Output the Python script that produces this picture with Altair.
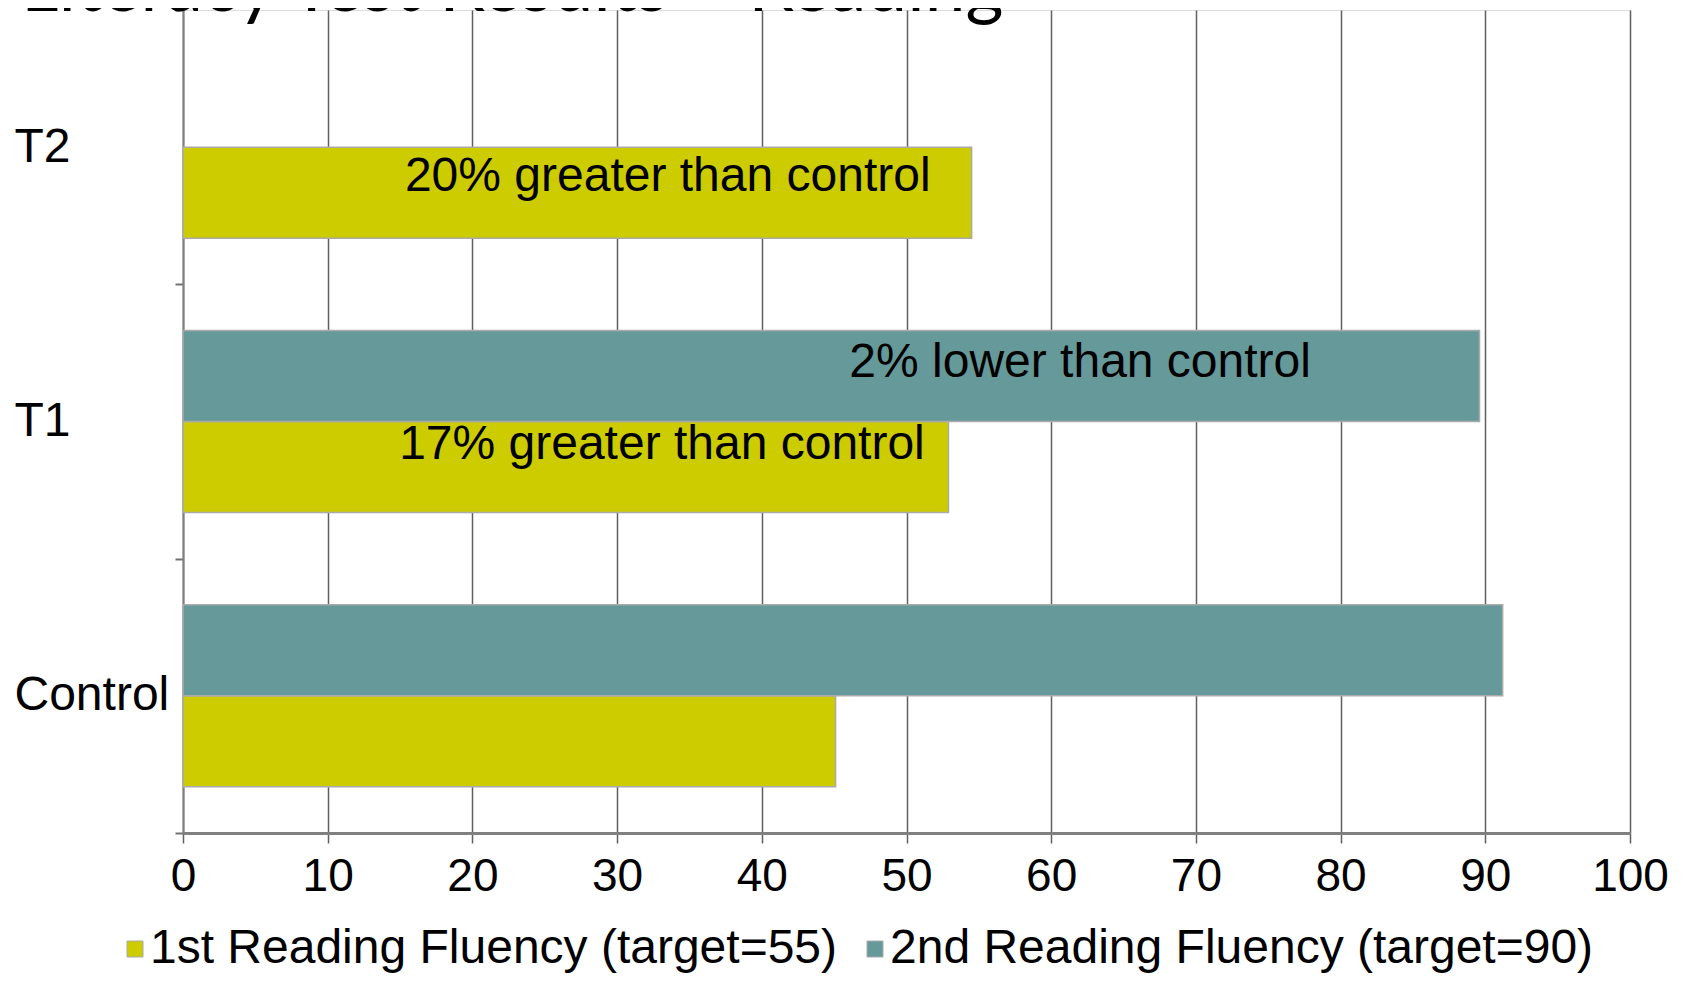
import altair as alt
import pandas as pd

# ---- data ----
categories = ["T2", "T1", "Control"]
series_names = ["1st Reading Fluency (target=55)", "2nd Reading Fluency (target=90)"]
first_fluency = [54.5, 52.9, 45.1]
second_fluency = [None, 89.6, 91.2]
x_ticks = [0, 10, 20, 30, 40, 50, 60, 70, 80, 90, 100]
annotation_text = ["20% greater than control", "2% lower than control", "17% greater than control"]
annotation_cat = ["T2", "T1", "T1"]
annotation_series = [series_names[0], series_names[1], series_names[0]]
annotation_x = [33.5, 62.0, 33.1]
title_text = "Literacy Test Results – Reading"

rows = []
for c, a, b in zip(categories, first_fluency, second_fluency):
    rows.append({"category": c, "series": series_names[0], "value": a})
    if b is not None:
        rows.append({"category": c, "series": series_names[1], "value": b})
df = pd.DataFrame(rows)

ann = pd.DataFrame({
    "category": annotation_cat,
    "series": annotation_series,
    "x": annotation_x,
    "text": annotation_text,
})

FONT = "Liberation Sans"
offset_sort = [series_names[1], series_names[0]]

y_enc = alt.Y(
    "category:N",
    sort=categories,
    scale=alt.Scale(paddingInner=0, paddingOuter=0),
    axis=alt.Axis(
        title=None, tickBand="extent", labelAlign="left", labelPadding=161,
        tickSize=8, tickColor="#707070", tickWidth=2,
        labelFontSize=48, labelFont=FONT, labelColor="black", labelBaseline="middle",
        domainColor="#808080", domainWidth=2, grid=False,
    ),
)
yoff = alt.YOffset("series:N", sort=offset_sort, scale=alt.Scale(paddingInner=0, paddingOuter=0.508))
x_enc = alt.X(
    "value:Q",
    scale=alt.Scale(domain=[0, 100], nice=False),
    axis=alt.Axis(
        values=x_ticks, title=None, grid=True, gridColor="#606060", gridWidth=1.5,
        tickColor="#606060", tickSize=10, tickWidth=1.5,
        labelFontSize=46, labelFont=FONT, labelColor="black", labelPadding=11,
        labelFlush=False, labelOverlap=False,
        domainColor="#808080", domainWidth=3,
    ),
)

bars = alt.Chart(df).mark_bar(stroke="#aaaaaa", strokeWidth=1.5).encode(
    x=x_enc,
    y=y_enc,
    yOffset=yoff,
    color=alt.Color(
        "series:N",
        scale=alt.Scale(domain=series_names, range=["#CCCC00", "#669999"]),
        legend=alt.Legend(
            title=None, orient="none", legendX=-72, legendY=915, direction="horizontal",
            symbolType="square", symbolSize=256, symbolStrokeColor="#aaaaaa",
            symbolStrokeWidth=1, labelFontSize=48, labelFont=FONT, labelColor="black",
            labelOffset={"expr": "-9"}, columnPadding=13, padding=0, labelLimit=1000,
        ),
    ),
)

dys = [-2, 1, -8]
text_layers = []
for i in range(len(annotation_text)):
    text_layers.append(
        alt.Chart(ann.iloc[[i]]).mark_text(
            font=FONT, fontSize=48, color="black", align="center",
            baseline="alphabetic", dy=dys[i],
        ).encode(
            x=alt.X("x:Q"),
            y=alt.Y("category:N", sort=categories),
            yOffset=alt.YOffset("series:N", sort=offset_sort),
            text="text:N",
        )
    )

title_layer = alt.Chart(alt.Data(values=[{"t": title_text}])).mark_text(
    font="Lato", fontSize=73, align="left", baseline="alphabetic", color="black"
).encode(x=alt.value(-162), y=alt.value(1), text="t:N")

chart = alt.layer(bars, *text_layers, title_layer).properties(
    width=1447,
    height=823,
    autosize=alt.AutoSizeParams(type="none"),
    padding={"left": 175, "top": 2, "right": 42, "bottom": 142},
).configure_view(stroke=None).configure(background="white")

chart.save("out.html", embed_options={"renderer": "svg", "actions": False})
